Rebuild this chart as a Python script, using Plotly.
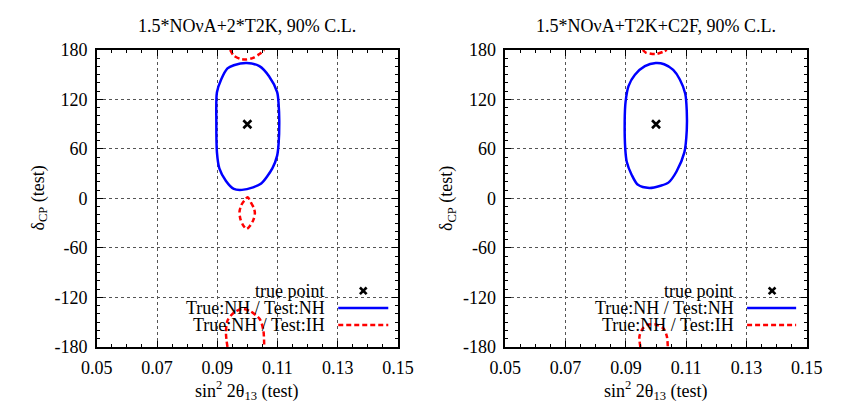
import plotly.graph_objects as go

# ---------------- data ----------------
titles = ["1.5*NOνA+2*T2K, 90% C.L.", "1.5*NOνA+T2K+C2F, 90% C.L."]
true_x = [0.1]
true_y = [90]

# left panel: True NH / Test NH (blue)
lb_x = [0.0998, 0.1040, 0.1072, 0.1099, 0.1104, 0.1106, 0.1104, 0.1099, 0.1083, 0.1046, 0.1019,
        0.0982, 0.0955, 0.0929, 0.0907, 0.0899, 0.0897, 0.0899, 0.0913, 0.0934, 0.0955, 0.0998]
lb_y = [164.2, 160.4, 148.1, 128.8, 113.5, 94.2, 67.3, 51.9, 36.5, 18.1, 13.5,
        10.4, 11.5, 21.2, 36.5, 55.8, 94.2, 128.8, 144.2, 157.7, 161.5, 164.2]
# left panel: True NH / Test IH (red) - three pieces
lr_top_x = [0.0943, 0.0955, 0.0977, 0.0996, 0.1019, 0.1040, 0.1056]
lr_top_y = [180, 173.1, 169.2, 168.5, 170.4, 175, 180]
lr_mid_x = [0.1001, 0.1012, 0.1022, 0.1025, 0.1020, 0.1009, 0.0998, 0.0987, 0.0977, 0.0974, 0.0980, 0.0991, 0.1001]
lr_mid_y = [1.5, -5, -12, -18, -26, -33, -36.9, -33, -25, -16, -8, -2, 1.5]
lr_bot_x = [0.0934, 0.0929, 0.0934, 0.0955, 0.0982, 0.1009, 0.1041, 0.1053, 0.1056]
lr_bot_y = [-180, -163.5, -148.1, -138.5, -133.8, -136.5, -146.2, -159.6, -180]

# right panel: True NH / Test NH (blue)
rb_x = [0.0999, 0.0963, 0.0930, 0.0909, 0.0899, 0.0896, 0.0898, 0.0903, 0.0919, 0.0940, 0.0978,
        0.1015, 0.1041, 0.1068, 0.1094, 0.1102, 0.1102, 0.1097, 0.1079, 0.1057, 0.1027, 0.0999]
rb_y = [164.2, 160.4, 150, 136.5, 117.3, 94.2, 59.6, 44.2, 28.8, 16.5, 12.7,
        15.4, 19.2, 32.7, 55.8, 82.7, 105.8, 126.9, 144.2, 155.8, 162.7, 164.2]
# right panel: True NH / Test IH (red)
rr_top_x = [0.0956, 0.0966, 0.0999, 0.1025, 0.1036]
rr_top_y = [180, 176.9, 175, 178, 180]
rr_bot_x = [0.0948, 0.0945, 0.0956, 0.0972, 0.0999, 0.1025, 0.1036, 0.1039]
rr_bot_y = [-180, -167.3, -157.7, -153.1, -152.7, -157.7, -167.3, -180]

x_ticks = [0.05, 0.07, 0.09, 0.11, 0.13, 0.15]
y_ticks = [-180, -120, -60, 0, 60, 120, 180]
legend_labels = ["true point", "True:NH / Test:NH", "True:NH / Test:IH"]

# ---------------- styling ----------------
W, H = 841, 415
FONT = "Liberation Serif"
FS = 18
BLUE = "#0000ff"
RED = "#ff0000"


def px(x):
    return x / W


def py(y):
    return 1 - y / H


def join(*parts):
    xs, ys = [], []
    for i, (a, b) in enumerate(parts):
        if i:
            xs.append(None)
            ys.append(None)
        xs += a
        ys += b
    return xs, ys


panels = [
    dict(left=84, right=397, blue=(lb_x, lb_y),
         red=join((lr_top_x, lr_top_y), (lr_mid_x, lr_mid_y), (lr_bot_x, lr_bot_y)),
         box=(140, 397), text_r=323, samp=(335, 387), cross=361),
    dict(left=508.7, right=822, blue=(rb_x, rb_y),
         red=join((rr_top_x, rr_top_y), (rr_bot_x, rr_bot_y)),
         box=(565, 822), text_r=748, samp=(760, 811), cross=786),
]
TOP, BOT = 42, 354

fig = go.Figure()
shapes, annotations = [], []

for i, p in enumerate(panels):
    sfx = "" if i == 0 else str(i + 1)
    xa, ya = "x" + sfx, "y" + sfx
    fig.add_trace(go.Scatter(x=p["blue"][0], y=p["blue"][1], mode="lines", xaxis=xa, yaxis=ya,
                             line=dict(color=BLUE, width=2.5, shape="spline", smoothing=0.8),
                             showlegend=False, hoverinfo="skip"))
    fig.add_trace(go.Scatter(x=p["red"][0], y=p["red"][1], mode="lines", xaxis=xa, yaxis=ya,
                             line=dict(color=RED, width=2.5, dash="5px,3px", shape="spline", smoothing=0.8),
                             connectgaps=False, showlegend=False, hoverinfo="skip"))
    fig.add_trace(go.Scatter(x=true_x, y=true_y, mode="markers", xaxis=xa, yaxis=ya,
                             marker=dict(symbol="x-thin", size=8, line=dict(color="black", width=2.6)),
                             showlegend=False, hoverinfo="skip"))

    axcommon = dict(showline=True, linecolor="black", linewidth=1.5, mirror="allticks",
                    ticks="inside", tickcolor="black", tickwidth=1.2, ticklen=6,
                    showgrid=True, gridcolor="#555555", gridwidth=1, griddash="dot",
                    zeroline=False, tickfont=dict(family=FONT, size=FS, color="black"))
    fig.layout["xaxis" + sfx] = dict(
        domain=[px(p["left"]), px(p["right"])], anchor=ya, range=[0.05, 0.15],
        tickvals=x_ticks, ticktext=[f"{v:.2f}" for v in x_ticks],
        minor=dict(ticks="inside", dtick=0.005, tick0=0.05, ticklen=3, tickcolor="black",
                   tickwidth=1.2, showgrid=False),
        ticklabelstandoff=4, **axcommon)
    fig.layout["yaxis" + sfx] = dict(
        domain=[py(BOT), py(TOP)], anchor=xa, range=[-180, 180],
        tickvals=y_ticks, ticktext=[str(v) for v in y_ticks],
        minor=dict(ticks="inside", dtick=10, tick0=-180, ticklen=3, tickcolor="black",
                   tickwidth=1.2, showgrid=False),
        ticklabelstandoff=4, **axcommon)

    cx = (p["left"] + p["right"]) / 2
    annotations.append(dict(text=titles[i], x=px(cx), y=py(17), xref="paper", yref="paper",
                            showarrow=False, xanchor="center", yanchor="middle",
                            font=dict(family=FONT, size=FS, color="black")))
    annotations.append(dict(text="sin<sup>2</sup> 2θ<sub>13</sub> (test)", x=px(cx), y=py(400),
                            xref="paper", yref="paper", showarrow=False,
                            xanchor="center", yanchor="middle",
                            font=dict(family=FONT, size=FS, color="black")))
    annotations.append(dict(text="δ<sub>CP</sub> (test)", x=px(p["left"] - 60), y=py(198),
                            xref="paper", yref="paper", showarrow=False, textangle=-90,
                            xanchor="center", yanchor="middle",
                            font=dict(family=FONT, size=FS, color="black")))
    # opaque key box
    shapes.append(dict(type="rect", xref="paper", yref="paper", layer="between",
                       x0=px(p["box"][0]), x1=px(p["box"][1] - 1), y0=py(339), y1=py(286),
                       fillcolor="white", line=dict(width=0)))
    rows = [295, 313, 331]
    for lab, ry in zip(legend_labels, rows):
        annotations.append(dict(text=lab, x=px(p["text_r"]), y=py(ry), xref="paper", yref="paper",
                                showarrow=False, xanchor="right", yanchor="middle",
                                font=dict(family=FONT, size=FS, color="black")))
    c, r = p["cross"], rows[0]
    for d in (1, -1):
        shapes.append(dict(type="line", xref="paper", yref="paper", layer="above",
                           x0=px(c - 3.5), x1=px(c + 3.5), y0=py(r - 3.5 * d), y1=py(r + 3.5 * d),
                           line=dict(color="black", width=2.6)))
    shapes.append(dict(type="line", xref="paper", yref="paper", layer="above",
                       x0=px(p["samp"][0]), x1=px(p["samp"][1]), y0=py(rows[1]), y1=py(rows[1]),
                       line=dict(color=BLUE, width=2.5)))
    shapes.append(dict(type="line", xref="paper", yref="paper", layer="above",
                       x0=px(p["samp"][0]), x1=px(p["samp"][1]), y0=py(rows[2]), y1=py(rows[2]),
                       line=dict(color=RED, width=2.5, dash="5px,3px")))

fig.update_layout(width=W, height=H, margin=dict(l=0, r=0, t=0, b=0),
                  paper_bgcolor="white", plot_bgcolor="white",
                  shapes=shapes, annotations=annotations, showlegend=False,
                  font=dict(family=FONT, size=FS, color="black"))

fig.write_html("out.html")
